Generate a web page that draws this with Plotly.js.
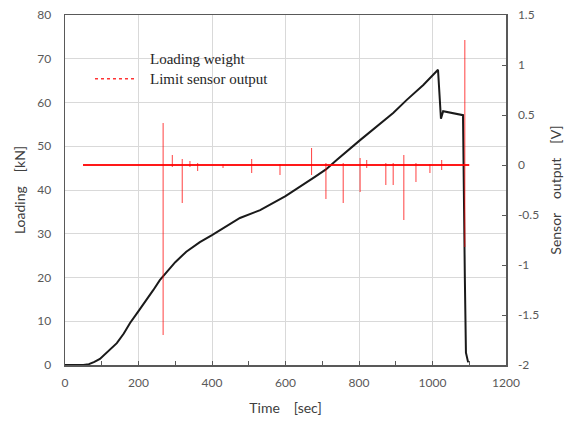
<!DOCTYPE html>
<html>
<head>
<meta charset="utf-8">
<script src="https://cdn.plot.ly/plotly-3.0.1.min.js"></script>
<style>html,body{margin:0;padding:0;background:#fff}#chart{width:565px;height:427px}</style>
</head>
<body>
<div id="chart"></div>
<script>
// Loading weight [kN] vs time [sec]
var loadTime = [0, 50, 65, 80, 95, 110, 125, 141, 160, 177, 200, 223, 240, 258, 267, 285, 300, 330, 367, 400, 440, 476, 531, 600, 680, 710, 740, 803, 893, 930, 975, 1015, 1023, 1029, 1083, 1086, 1088, 1091, 1097];
var loadKN   = [0, 0, 0.2, 0.7, 1.4, 2.5, 3.7, 5.0, 7.2, 9.6, 12.3, 14.9, 17.1, 19.4, 20.3, 22.0, 23.5, 25.9, 28.1, 29.7, 31.8, 33.6, 35.4, 38.6, 43.0, 44.7, 46.9, 51.4, 57.6, 60.6, 64.0, 67.5, 56.3, 58.0, 57.1, 21, 20, 2.8, 0.6];

// Limit sensor output [V]: baseline near 0 with spikes
var sensorStart = 49;
var sensorEnd = 1100;
var spikeTime = [267, 292, 319, 340, 361, 430, 508, 585, 671, 710, 757, 803, 821, 873, 893, 922, 955, 993, 1025, 1088];
var spikeHigh = [0.42, 0.10, 0.06, 0.04, 0.02, 0.01, 0.06, 0.01, 0.17, 0.02, 0.02, 0.07, 0.05, 0.02, 0.02, 0.10, 0.02, 0.01, 0.05, 1.25];
var spikeLow  = [-1.70, -0.02, -0.38, -0.02, -0.06, -0.03, -0.08, -0.10, -0.10, -0.34, -0.38, -0.27, -0.03, -0.20, -0.20, -0.55, -0.17, -0.08, -0.05, -0.82];

var yTickVals = [0, 10, 20, 30, 40, 50, 60, 70, 80];
var y2TickVals = [1.5, 1, 0.5, 0, -0.5, -1, -1.5, -2];
var y2TickText = ["1.5", "1", "0.5", "0", "-0.5", "-1", "-1.5", "-2"];
var xTickVals = [0, 200, 400, 600, 800, 1000, 1200];

var sx = [], sy = [];
for (var i = 0; i < spikeTime.length; i++) {
  sx.push(spikeTime[i], spikeTime[i], null);
  sy.push(spikeHigh[i], spikeLow[i], null);
}

var tickFont = {family: "Lato, 'Open Sans', sans-serif", size: 12, color: "#595959"};
var titleFont = {family: "Lato, 'Open Sans', sans-serif", size: 14, color: "#404040"};
var legendFont = {family: "'Liberation Serif', serif", size: 15, color: "#262626"};

var traces = [
  {x: [sensorStart, sensorEnd], y: [0, 0], yaxis: "y2", type: "scatter", mode: "lines",
   line: {color: "rgba(255,0,0,0.9)", width: 2}, showlegend: false, hoverinfo: "skip"},
  {x: sx, y: sy, yaxis: "y2", type: "scatter", mode: "lines", connectgaps: false,
   line: {color: "rgba(255,0,0,0.75)", width: 1}, name: "Limit sensor output", showlegend: false},
  {x: loadTime, y: loadKN, type: "scatter", mode: "lines",
   line: {color: "#1a1a1a", width: 2}, name: "Loading weight", showlegend: false}
];

var layout = {
  width: 565, height: 427,
  margin: {l: 65, r: 59, t: 15, b: 62},
  paper_bgcolor: "#fff", plot_bgcolor: "#fff",
  showlegend: false,
  xaxis: {range: [0, 1200], tickvals: xTickVals, showgrid: true, gridcolor: "#d9d9d9", gridwidth: 1,
          showline: true, linecolor: "#595959", linewidth: 1.5, mirror: true, zeroline: false,
          ticks: "inside", ticklen: 4, tickcolor: "#595959",
          minor: {dtick: 100, ticks: "inside", ticklen: 4, tickcolor: "#595959", showgrid: false},
          tickfont: tickFont, ticklabelstandoff: 6,
          title: {text: "Time\u3000[sec]", font: titleFont, standoff: 14}},
  yaxis: {range: [0, 80], tickvals: yTickVals, showgrid: true, gridcolor: "#d9d9d9", gridwidth: 1,
          showline: true, linecolor: "#595959", linewidth: 1.5, mirror: true, zeroline: false,
          ticks: "", tickfont: tickFont, ticklabelstandoff: 10,
          title: {text: "Loading\u3000[kN]", font: titleFont, standoff: 8}},
  yaxis2: {range: [-2, 1.5], overlaying: "y", side: "right", tickvals: y2TickVals, ticktext: y2TickText,
           showgrid: false, zeroline: false, showline: true, linecolor: "#595959", linewidth: 1.5,
           ticks: "inside", ticklen: 4, tickcolor: "#595959", tickfont: tickFont, ticklabelstandoff: 8,
           title: {text: "Sensor\u3000output\u3000[V]", font: titleFont, standoff: 13}},
  shapes: [
    {type: "line", xref: "paper", yref: "paper", x0: 0.068, x1: 0.163, y0: 0.818, y1: 0.818,
     line: {color: "rgba(255,0,0,0.8)", width: 1.5, dash: "dot"}}
  ],
  annotations: [
    {xref: "paper", yref: "paper", x: 0.188, y: 0.874, xanchor: "left", yanchor: "middle", showarrow: false,
     text: "Loading weight", font: legendFont},
    {xref: "paper", yref: "paper", x: 0.188, y: 0.818, xanchor: "left", yanchor: "middle", showarrow: false,
     text: "Limit sensor output", font: legendFont}
  ]
};

Plotly.newPlot("chart", traces, layout, {displayModeBar: false, staticPlot: true});
</script>
</body>
</html>
